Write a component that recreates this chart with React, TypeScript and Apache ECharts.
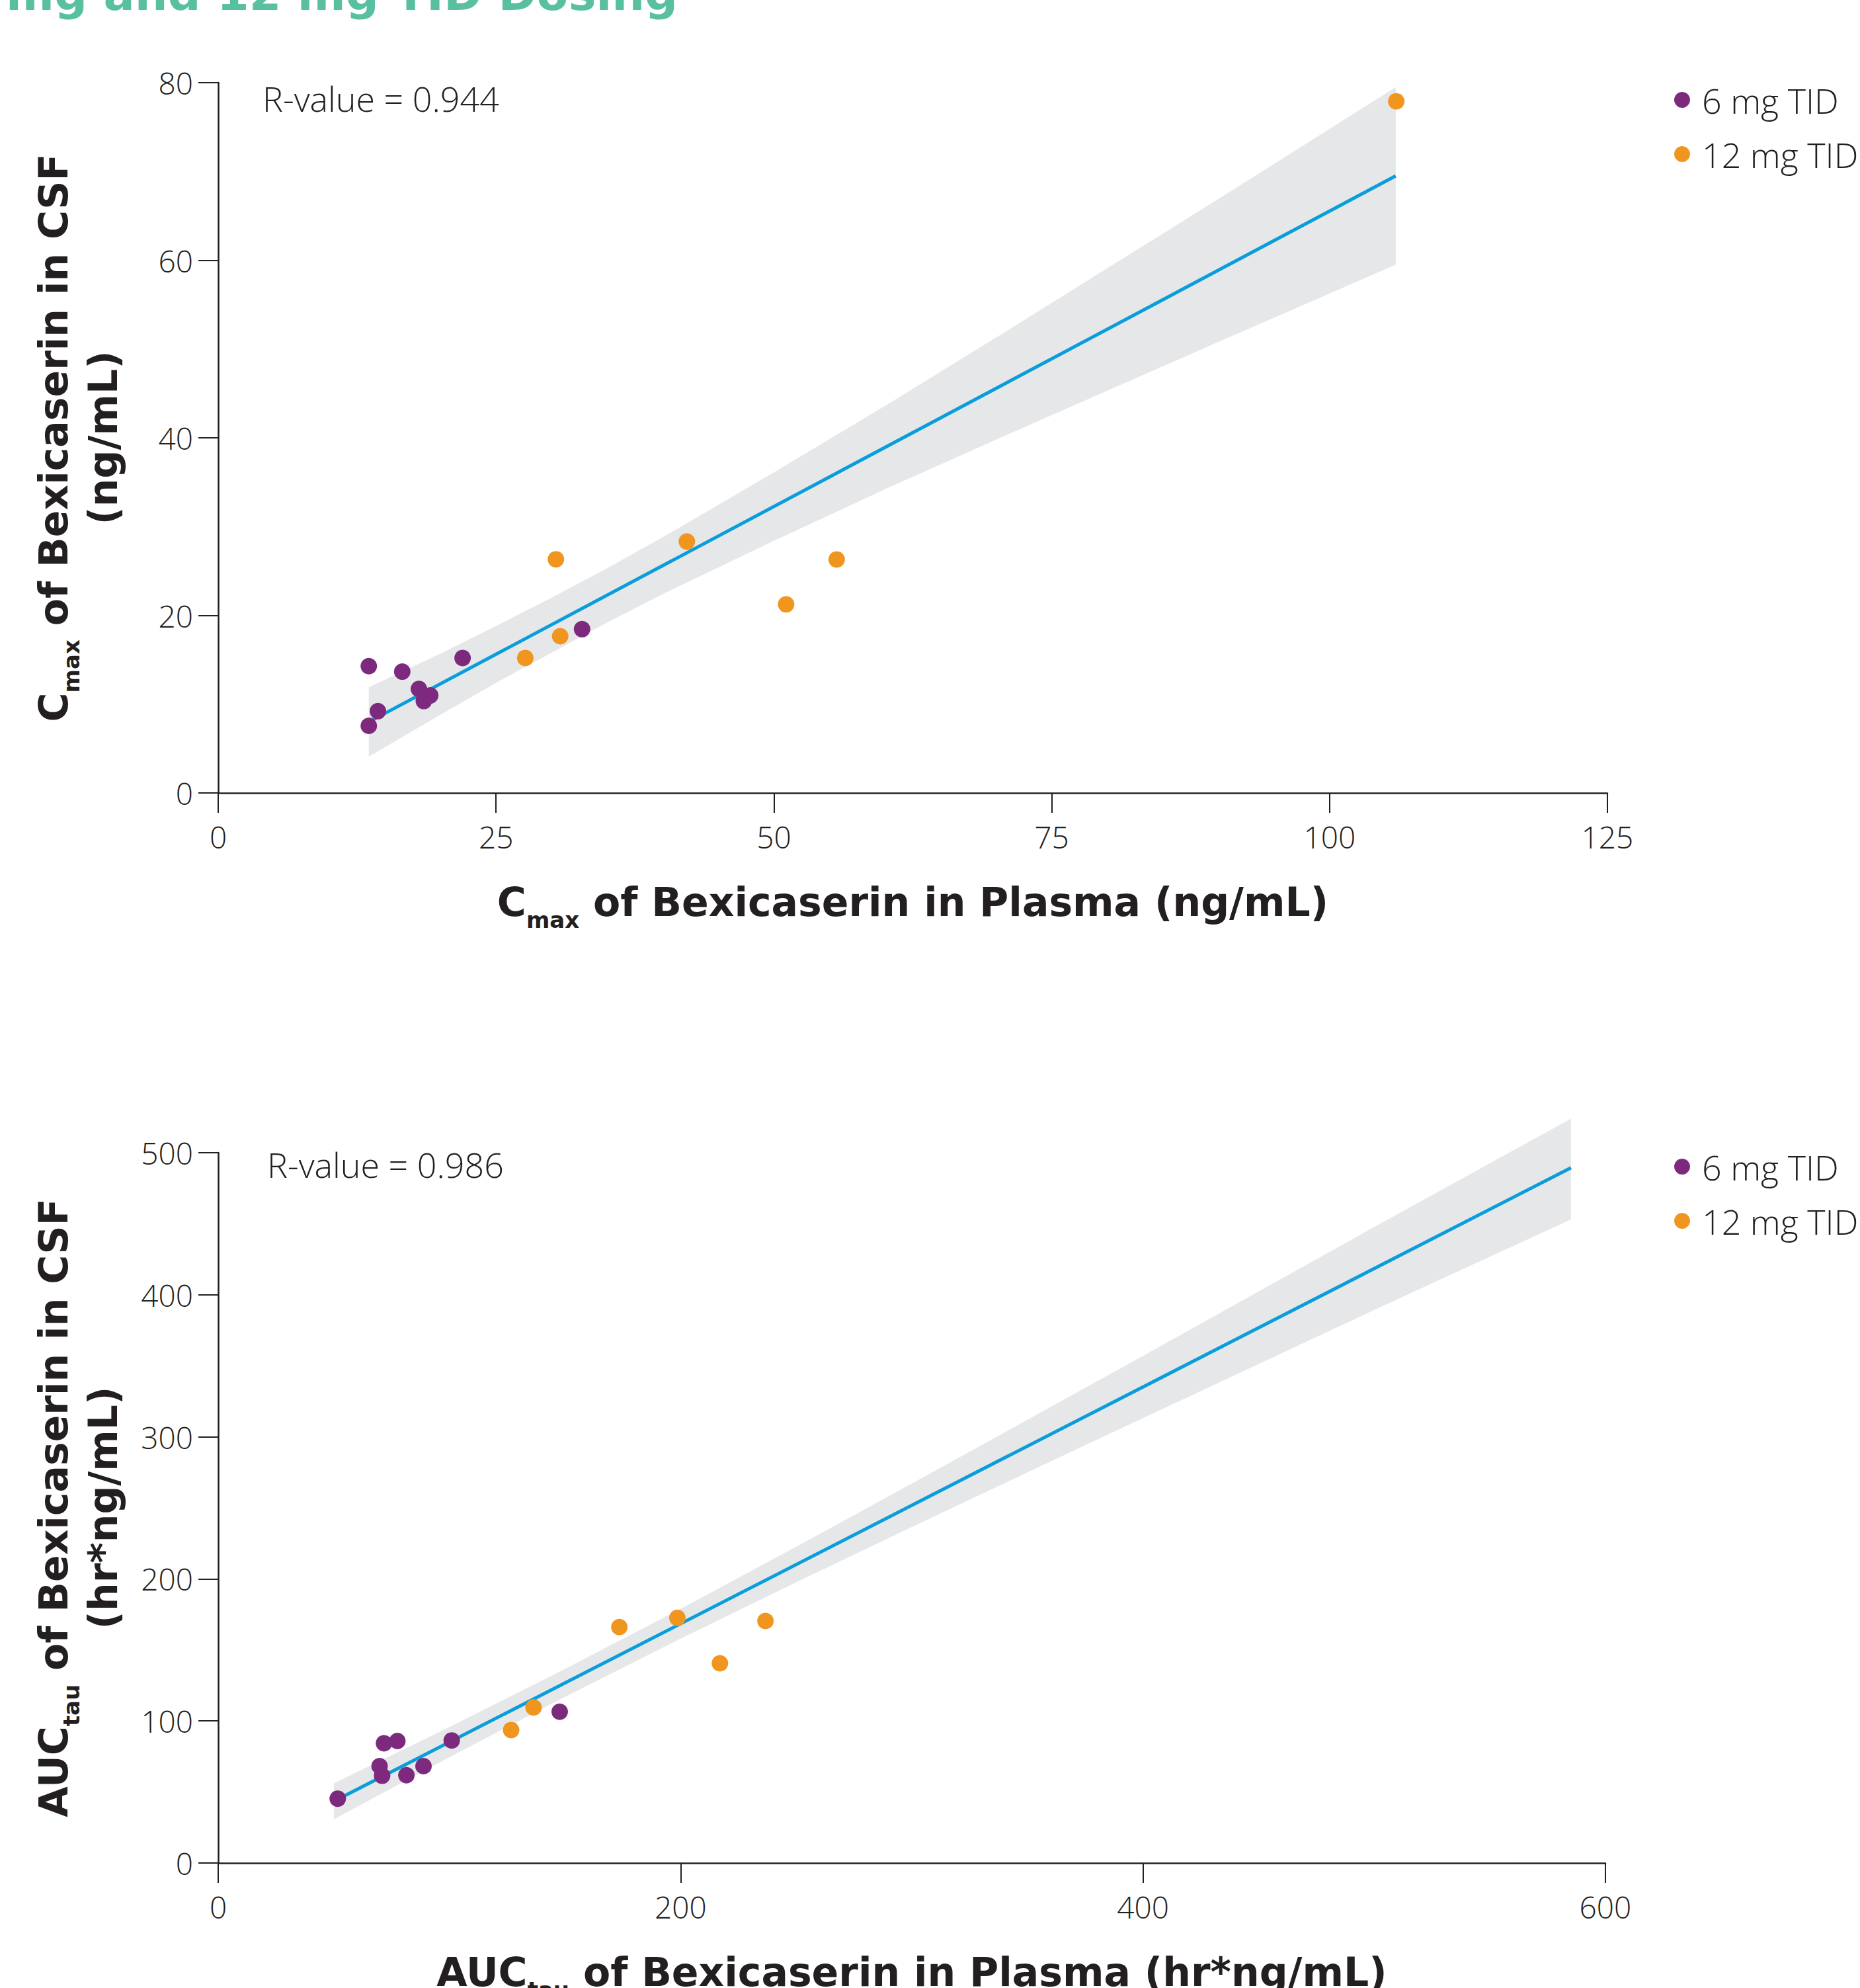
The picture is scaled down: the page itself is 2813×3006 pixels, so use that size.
import React, { useEffect, useRef } from "react";
import * as echarts from "echarts";

// ---------- Data ----------
const seriesNames = ["6 mg TID", "12 mg TID"];

// Panel 1: Cmax (plasma vs CSF, ng/mL)
const cmaxPlasma6 = [13.55, 14.37, 13.55, 16.56, 18.06, 18.5, 19.08, 21.99, 32.74];
const cmaxCsf6 = [14.28, 9.21, 7.56, 13.66, 11.72, 10.35, 10.98, 15.2, 18.45];
const cmaxPlasma12 = [27.63, 30.39, 30.77, 42.17, 51.1, 55.65, 106.0];
const cmaxCsf12 = [15.2, 26.32, 17.65, 28.32, 21.24, 26.3, 77.9];
const cmaxFitX = [13.55, 105.95];
const cmaxFitY = [8.0, 69.5];
const cmaxBandX = [13.55, 20, 25, 30, 35, 40, 50, 60, 70, 80, 90, 105.95];
const cmaxBandUpper = [11.9, 15.7, 18.8, 22.0, 25.3, 28.8, 36.1, 43.6, 51.3, 59.1, 66.9, 79.5];
const cmaxBandLower = [4.1, 8.8, 12.4, 15.8, 19.2, 22.4, 28.4, 34.2, 39.8, 45.3, 50.8, 59.5];
const cmaxR = "R-value = 0.944";

// Panel 2: AUCtau (plasma vs CSF, hr*ng/mL)
const aucPlasma6 = [51.7, 69.8, 70.9, 71.7, 77.5, 81.4, 88.8, 101.0, 147.7];
const aucCsf6 = [45.3, 68.2, 61.4, 84.3, 85.9, 61.8, 68.2, 86.3, 106.5];
const aucPlasma12 = [126.7, 136.4, 173.5, 198.6, 217.0, 236.7, 587.2];
const aucCsf12 = [93.6, 109.5, 166.1, 172.6, 140.6, 170.4, 508.9];
const aucFitX = [50.7, 585.1];
const aucFitY = [44.0, 489.4];
const aucBandX = [50, 100, 150, 200, 250, 300, 350, 400, 450, 500, 585.1];
const aucBandUpper = [56.1, 95.7, 136.6, 178.9, 222.6, 267.1, 312.0, 357.0, 402.3, 447.7, 524.0];
const aucBandLower = [30.7, 74.5, 117.0, 157.9, 197.6, 236.5, 275.0, 313.2, 351.3, 389.3, 453.0];
const aucR = "R-value = 0.986";

const titleText = "mg and 12 mg TID Dosing";

// ---------- Styles ----------
const INK = "#231F20";
const PURPLE = "#7D2A7E";
const ORANGE = "#F0961F";
const BLUE = "#0A9DDB";
const BAND = "#E6E7E8";
const GREEN = "#58C0A0";
const LIGHT_FONT = '"Open Sans", "Noto Sans", sans-serif';
const BOLD_FONT = '"DejaVu Sans", "Noto Sans", sans-serif';

const rich = {
  b: { fontSize: 60, fontWeight: "bold", fontFamily: BOLD_FONT, color: INK, lineHeight: 75 },
  s: { fontSize: 34, fontWeight: "bold", fontFamily: BOLD_FONT, color: INK, lineHeight: 21, padding: [54, 0, 0, 0] },
};

function axisBase(min: number, max: number, interval: number, margin: number) {
  return {
    type: "value",
    min,
    max,
    interval,
    axisLine: { show: true, onZero: false, lineStyle: { color: INK, width: 2.5 } },
    axisTick: { show: true, length: 30, lineStyle: { color: INK, width: 2 } },
    splitLine: { show: false },
    axisLabel: { color: INK, fontSize: 46, fontWeight: 300, fontFamily: LIGHT_FONT, margin },
    nameLocation: "middle",
    nameMoveOverlap: false,
    nameTextStyle: { rich },
  };
}

function bandSeries(xs: number[], up: number[], lo: number[], idx: number) {
  return {
    type: "custom",
    xAxisIndex: idx,
    yAxisIndex: idx,
    silent: true,
    z: 1,
    data: xs.map((x, i) => [x, up[i], lo[i]]),
    encode: { x: 0, y: [1, 2] },
    renderItem: (params: any, api: any) => {
      if (params.dataIndex !== 0) return null;
      const pts: number[][] = [];
      for (let i = 0; i < xs.length; i++) pts.push(api.coord([xs[i], up[i]]));
      for (let i = xs.length - 1; i >= 0; i--) pts.push(api.coord([xs[i], lo[i]]));
      return { type: "polygon", shape: { points: pts }, style: { fill: BAND } };
    },
  };
}

function fitSeries(xs: number[], ys: number[], idx: number) {
  return {
    type: "line",
    xAxisIndex: idx,
    yAxisIndex: idx,
    data: xs.map((x, i) => [x, ys[i]]),
    symbol: "none",
    silent: true,
    z: 2,
    lineStyle: { color: BLUE, width: 5 },
  };
}

function scatterSeries(name: string, xs: number[], ys: number[], color: string, idx: number) {
  return {
    type: "scatter",
    name,
    xAxisIndex: idx,
    yAxisIndex: idx,
    data: xs.map((x, i) => [x, ys[i]]),
    symbol: "circle",
    symbolSize: 25,
    z: 3,
    itemStyle: { color, opacity: 1 },
  };
}

function legendAt(top: number) {
  return {
    data: seriesNames,
    orient: "vertical",
    left: 2527,
    top,
    icon: "circle",
    itemWidth: 50,
    itemHeight: 24,
    itemGap: 30,
    selectedMode: false,
    textStyle: { color: INK, fontSize: 52, lineHeight: 48, fontWeight: 300, fontFamily: LIGHT_FONT },
  };
}

function rText(text: string, x: number, y: number) {
  return {
    type: "text",
    silent: true,
    style: {
      text,
      x,
      y,
      fill: INK,
      fontSize: 52,
      fontWeight: 300,
      fontFamily: LIGHT_FONT,
      textVerticalAlign: "middle",
      verticalAlign: "middle",
    },
  };
}

export default function App() {
  const ref = useRef<HTMLDivElement>(null);

  useEffect(() => {
    if (!ref.current) return;
    const chart = echarts.init(ref.current, undefined, { renderer: "svg" });

    const option: any = {
      animation: false,
      backgroundColor: "#ffffff",
      grid: [
        { left: 330, top: 125, width: 2101, height: 1074, containLabel: false, outerBoundsMode: "none" },
        { left: 330, top: 1743, width: 2098, height: 1074, containLabel: false, outerBoundsMode: "none" },
      ],
      xAxis: [
        {
          ...axisBase(0, 125, 25, 43),
          gridIndex: 0,
          name: "{b|C}{s|max}{b| of Bexicaserin in Plasma (ng/mL)}",
          nameGap: 127,
        },
        {
          ...axisBase(0, 600, 200, 43),
          gridIndex: 1,
          name: "{b|AUC}{s|tau}{b| of Bexicaserin in Plasma (hr*ng/mL)}",
          nameGap: 127,
        },
      ],
      yAxis: [
        {
          ...axisBase(0, 80, 20, 38),
          gridIndex: 0,
          name: "{b|C}{s|max}{b| of Bexicaserin in CSF}\n{b|(ng/mL)}",
          nameGap: 137,
        },
        {
          ...axisBase(0, 500, 100, 38),
          gridIndex: 1,
          name: "{b|AUC}{s|tau}{b| of Bexicaserin in CSF}\n{b|(hr*ng/mL)}",
          nameGap: 137,
        },
      ],
      legend: [legendAt(120), legendAt(1733)],
      graphic: [
        {
          type: "text",
          silent: true,
          style: {
            text: titleText,
            x: 9,
            y: -9,
            fill: GREEN,
            fontSize: 70,
            fontWeight: "bold",
            fontFamily: BOLD_FONT,
            textVerticalAlign: "middle",
            verticalAlign: "middle",
          },
        },
        rText(cmaxR, 397, 148),
        rText(aucR, 404, 1760),
      ],
      series: [
        bandSeries(cmaxBandX, cmaxBandUpper, cmaxBandLower, 0),
        fitSeries(cmaxFitX, cmaxFitY, 0),
        scatterSeries(seriesNames[0], cmaxPlasma6, cmaxCsf6, PURPLE, 0),
        scatterSeries(seriesNames[1], cmaxPlasma12, cmaxCsf12, ORANGE, 0),
        bandSeries(aucBandX, aucBandUpper, aucBandLower, 1),
        fitSeries(aucFitX, aucFitY, 1),
        scatterSeries(seriesNames[0], aucPlasma6, aucCsf6, PURPLE, 1),
        scatterSeries(seriesNames[1], aucPlasma12, aucCsf12, ORANGE, 1),
      ],
    };

    chart.setOption(option);
    return () => chart.dispose();
  }, []);

  return (
    <div
      ref={ref}
      style={{ position: "fixed", left: 0, top: 0, width: 2813, height: 3006, background: "#fff" }}
    />
  );
}
